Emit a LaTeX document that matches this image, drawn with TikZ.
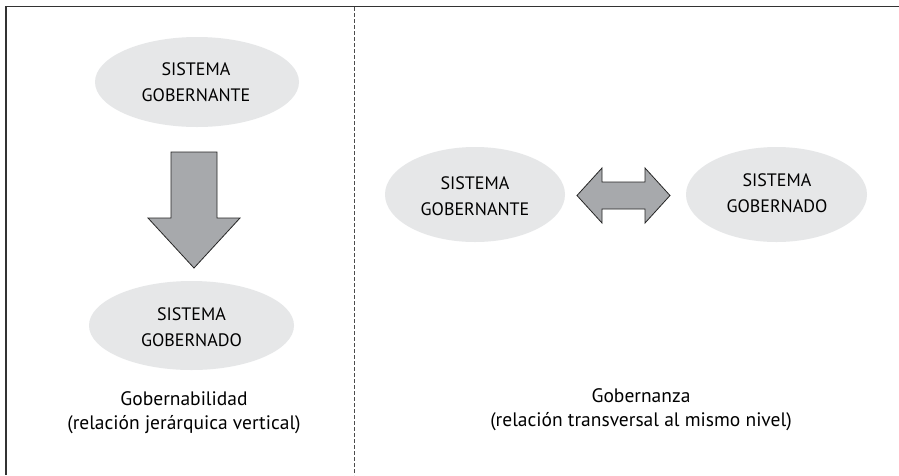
\documentclass[tikz,border=0pt]{standalone}
\usepackage{fontspec}
\setmainfont{PT Sans}
\usetikzlibrary{shapes.geometric}
\definecolor{ellfill}{HTML}{E6E7E8}
\definecolor{arrfill}{HTML}{A7A9AC}
\definecolor{framec}{HTML}{333333}
\tikzset{
  sysell/.style={ellipse, fill=ellfill, draw=none, inner sep=0pt},
  systext/.style={align=center, font=\fontsize{18}{26}\selectfont, inner sep=0pt},
  captext/.style={align=center, font=\fontsize{19.5}{24}\selectfont, inner sep=0pt},
  blockarrow/.style={fill=arrfill, draw=black!85, line width=0.8pt, line join=miter},
  framel/.style={draw=framec, line width=1.6pt},
  divider/.style={draw=black!70, line width=0.7pt, dash pattern=on 4pt off 2pt}
}
\begin{document}
\begin{tikzpicture}[x=1pt, y=-1pt]
\useasboundingbox (0,0) rectangle (899,475);
\fill[white] (0,0) rectangle (899,475);
% frame
\coordinate (tl) at (6,6.5);
\coordinate (tr) at (899,6.5);
\coordinate (bl) at (6,475);
\draw[framel] (tr) -- (tl) -- (bl);
\coordinate (dtop) at (354,7);
\coordinate (dbot) at (354,475);
\draw[divider] (dtop) -- (dbot);
% left panel
\node[sysell, minimum width=204pt, minimum height=90pt] (gov1) at (197,82) {};
\node[systext] (gov1t) at (196,82.5) {SISTEMA\\GOBERNANTE};
\node[sysell, minimum width=205pt, minimum height=89pt] (ed1) at (191.5,325.5) {};
\node[systext] (ed1t) at (191.5,327) {SISTEMA\\GOBERNADO};
\draw[blockarrow] (171,152) -- (217,152) -- (217,218) -- (240,218) -- (194,268) -- (148,218) -- (171,218) -- cycle;
\node[captext] (capl) at (184,413) {Gobernabilidad\\(relación jerárquica vertical)};
% right panel
\node[sysell, minimum width=180pt, minimum height=95pt] (gov2) at (475,194.5) {};
\node[systext] (gov2t) at (475,196) {SISTEMA\\GOBERNANTE};
\node[sysell, minimum width=181pt, minimum height=95pt] (ed2) at (776.5,194.5) {};
\node[systext] (ed2t) at (777,193) {SISTEMA\\GOBERNADO};
\draw[blockarrow] (577,195.5) -- (602,168) -- (602,182) -- (645,182) -- (645,168) -- (670,195.5) -- (645,223) -- (645,209) -- (602,209) -- (602,223) -- cycle;
\node[captext] (capr) at (641,410) {Gobernanza\\(relación transversal al mismo nivel)};
\end{tikzpicture}
\end{document}
